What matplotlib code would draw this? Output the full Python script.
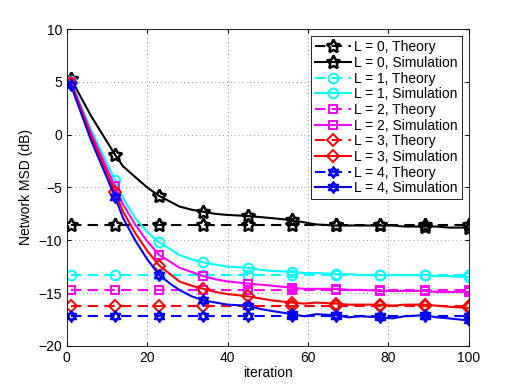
import numpy as np
import matplotlib.pyplot as plt
from matplotlib.path import Path

plt.rcParams['font.family'] = ['Liberation Sans', 'DejaVu Sans']

# theory (steady state) levels for each L
theory = [-8.55, -13.3, -14.75, -16.2, -17.15]
mark_it = [1, 12, 23, 34, 45, 56, 67, 78, 89, 100]

# simulation curves
sim_it = [1, 6, 12, 14, 17, 20, 23, 26, 28, 31, 34, 37, 40, 45, 48, 51, 56, 59, 62, 67,
          70, 73, 78, 81, 84, 89, 92, 95, 100]
sim = [
    [5.3, 1.8, -1.9, -3.0, -4.0, -5.0, -5.8, -6.4, -6.8, -7.1, -7.3, -7.5, -7.6, -7.7, -7.8, -7.9,
     -8.1, -8.3, -8.5, -8.6, -8.6, -8.6, -8.6, -8.6, -8.7, -8.7, -8.7, -8.8, -8.8],
    [5.1, 0.5, -4.3, -6.0, -7.9, -9.2, -10.2, -10.9, -11.4, -11.8, -12.1, -12.3, -12.5, -12.6, -12.8,
     -12.9, -13.0, -13.1, -13.1, -13.2, -13.2, -13.3, -13.3, -13.3, -13.3, -13.3, -13.4, -13.4, -13.5],
    [5.0, 0.2, -4.9, -6.6, -8.5, -10.1, -11.4, -12.1, -12.6, -13.0, -13.4, -13.7, -13.9, -14.1, -14.2,
     -14.3, -14.5, -14.6, -14.6, -14.6, -14.7, -14.7, -14.8, -14.8, -14.8, -14.8, -14.9, -14.9, -14.9],
    [4.9, -0.1, -5.4, -7.3, -9.3, -11.0, -12.4, -13.3, -13.9, -14.3, -14.6, -14.9, -15.1, -15.3, -15.5,
     -15.7, -15.9, -16.0, -15.9, -16.0, -16.1, -16.1, -16.1, -16.2, -16.1, -16.1, -16.2, -16.3, -16.4],
    [4.7, -0.5, -5.9, -7.9, -10.0, -11.8, -13.3, -14.2, -14.7, -15.3, -15.7, -15.9, -16.1, -16.2, -16.5,
     -16.7, -17.0, -17.2, -17.0, -17.1, -17.3, -17.2, -17.3, -17.4, -17.2, -17.1, -17.3, -17.4, -17.6],
]

labels = ['L = 0', 'L = 1', 'L = 2', 'L = 3', 'L = 4']
colors = ['black', 'cyan', 'magenta', 'red', 'blue']

# hexagram marker (two triangles)
ang1 = np.deg2rad([90, 210, 330, 90])
ang2 = np.deg2rad([270, 30, 150, 270])
verts = list(zip(np.cos(ang1), np.sin(ang1))) + list(zip(np.cos(ang2), np.sin(ang2)))
codes = [Path.MOVETO, Path.LINETO, Path.LINETO, Path.CLOSEPOLY] * 2
hexagram = Path(verts, codes)
markers = [(5, 1, 0), 'o', 's', 'D', hexagram]
msizes = [10, 7, 6, 6, 8]
mews = [1.8, 1.4, 1.4, 1.4, 1.4]

fig = plt.figure(figsize=(5.18, 3.89), dpi=100)
ax = fig.add_axes([0.129, 0.111, 0.776, 0.814])

mark_idx = [sim_it.index(m) for m in mark_it]
for i in range(5):
    c = colors[i]
    ax.plot(mark_it, [theory[i]] * len(mark_it), color=c, lw=1.5, linestyle=(0, (5, 3)),
            marker=markers[i], ms=msizes[i], mfc='none', mec=c, mew=mews[i],
            label=labels[i] + ', Theory')
    ax.plot(sim_it, sim[i], '-', color=c, lw=1.5,
            marker=markers[i], ms=msizes[i], mfc='none', mec=c, mew=mews[i],
            markevery=mark_idx, label=labels[i] + ', Simulation')

ax.set_xlim(0, 100)
ax.set_ylim(-20, 10)
ax.set_xticks(range(0, 101, 20))
ax.set_yticks(range(-20, 11, 5))
ax.set_yticklabels(['\u221220', '\u221215', '\u221210', '\u22125', '0', '5', '10'])
ax.tick_params(direction='in', labelsize=10, length=3, top=True, right=True)
ax.grid(True, linestyle=(0, (1, 3)), color='#999999', lw=0.7)
for s in ax.spines.values():
    s.set_linewidth(0.6)
ax.set_xlabel('iteration', fontsize=10, labelpad=1)
ax.set_ylabel('Network MSD (dB)', fontsize=10)

leg = ax.legend(loc='upper right', fontsize=10, fancybox=False, framealpha=1,
                edgecolor='black', borderpad=0.3, labelspacing=0.12,
                handlelength=2.6, handletextpad=0.2, borderaxespad=0.5)
leg.get_frame().set_linewidth(0.6)

fig.savefig('out.png', dpi=100)
